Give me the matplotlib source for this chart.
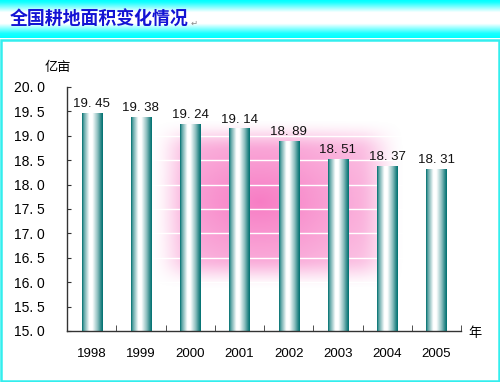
import numpy as np
import matplotlib
matplotlib.use("Agg")
import matplotlib.pyplot as plt
from matplotlib.patches import Rectangle

years = ["1998", "1999", "2000", "2001", "2002", "2003", "2004", "2005"]
area = [19.45, 19.38, 19.24, 19.14, 18.89, 18.51, 18.37, 18.31]
yticks = [15.0, 15.5, 16.0, 16.5, 17.0, 17.5, 18.0, 18.5, 19.0, 19.5, 20.0]

cjk = ["Noto Sans CJK SC", "DejaVu Sans"]
plt.rcParams["font.family"] = ["Liberation Sans", "DejaVu Sans"]

fig = plt.figure(figsize=(5, 3.82), dpi=100)
fig.patch.set_facecolor("white")

# title band: cyan -> white -> cyan
band = fig.add_axes([0, 1 - 38 / 382, 1, 38 / 382])
t = np.linspace(0, 1, 100)
prof = np.interp(t, [0, 0.06, 0.32, 0.62, 0.88, 1.0], [0.0, 0.1, 1.0, 1.0, 0.1, 0.0])
rgb = np.zeros((100, 1, 3))
rgb[:, 0, 0] = prof
rgb[:, 0, 1] = 1
rgb[:, 0, 2] = 1
band.imshow(rgb, aspect="auto", extent=[0, 1, 0, 1])
band.set_axis_off()
band.text(0.02, 0.48, "全国耕地面积变化情况", fontsize=12.9, fontweight="bold",
          color="#1414d4", va="center", ha="left", family=cjk)
band.text(0.382, 0.38, "↵", fontsize=6, color="#888888", va="center", family=cjk)

# cyan frame round the body
frame = fig.add_axes([0, 0, 1, 1 - 38 / 382])
frame.set_axis_off()
frame.add_patch(Rectangle((0.002, 0.004), 0.995, 0.99, fill=False,
                          edgecolor="#33eeee", lw=1.8, transform=frame.transAxes))

ax = fig.add_axes([67 / 500, 1 - 331 / 382, 394 / 500, 244 / 382])
ax.set_xlim(-0.5, len(years) - 0.5)
ax.set_ylim(15.0, 20.0)

# pink glow behind the bars: soft rectangle with a brighter centre
n = 400
gx, gy = np.meshgrid(np.linspace(0, 1, n), np.linspace(0, 1, n))


def soft(v, lo, hi, w):
    a = np.clip((v - lo) / w, 0, 1)
    b = np.clip((hi - v) / w, 0, 1)
    return (a * a * (3 - 2 * a)) * (b * b * (3 - 2 * b))


rect = soft(gx, 0.21, 0.86, 0.12) * soft(gy, 0.17, 0.87, 0.13)
d = np.sqrt(((gx - 0.49) / 0.42) ** 2 + ((gy - 0.53) / 0.45) ** 2)
core = np.clip(1 - d, 0, 1)
alpha = rect * (0.35 + 0.65 * core)
glow = np.zeros((n, n, 4))
glow[..., 0] = 0.97
glow[..., 1] = 0.49
glow[..., 2] = 0.77
glow[..., 3] = np.clip(alpha, 0, 1)
ax.imshow(glow, extent=[-0.5, len(years) - 0.5, 15.0, 20.0], aspect="auto",
          origin="lower", zorder=0)
for yv in yticks[1:-1]:
    ax.axhline(yv, color="white", lw=1.0, zorder=1)

# bars with teal-white-teal cylinder shading
bw = 0.41
s = np.linspace(0, 1, 64)
shade = np.interp(s, [0, 0.08, 0.35, 0.5, 0.75, 0.92, 1.0],
                  [0.0, 0.35, 1.0, 1.0, 0.55, 0.15, 0.0])
teal = np.array([0.0, 0.44, 0.44])
img = teal[None, None, :] + (1 - teal[None, None, :]) * shade[None, :, None]
for i, v in enumerate(area):
    ax.imshow(img, extent=[i - bw / 2, i + bw / 2, 15.0, v], aspect="auto",
              zorder=2, interpolation="bilinear")
    ax.text(i, v + 0.07, f"{v:.2f}".replace(".", ". "), ha="center", va="bottom",
            fontsize=9.5, color="#111111", zorder=3)

ax.set_xlim(-0.5, len(years) - 0.5)
ax.set_ylim(15.0, 20.0)
ax.set_xticks(range(len(years)))
ax.set_xticklabels(years, fontsize=9.5)
ax.set_xticks(np.arange(-0.5, len(years)), minor=True)
ax.tick_params(axis="x", which="major", length=0, pad=12)
ax.tick_params(axis="x", which="minor", direction="in", length=4, color="#333333")
ax.set_yticks(yticks)
ax.set_yticklabels([f"{v:.1f}".replace(".", ". ") for v in yticks], fontsize=10)
ax.tick_params(axis="y", direction="in", length=3, pad=16, color="#333333")
for sp in ["top", "right"]:
    ax.spines[sp].set_visible(False)
for sp in ["left", "bottom"]:
    ax.spines[sp].set_color("#333333")
    ax.spines[sp].set_linewidth(1.0)

fig.text(45 / 500, 1 - 67 / 382, "亿亩", fontsize=9.5, family=cjk, va="center")
fig.text(468 / 500, 1 - 334 / 382, "年", fontsize=9.5, family=cjk, va="center")

fig.savefig("out.png", dpi=100)
